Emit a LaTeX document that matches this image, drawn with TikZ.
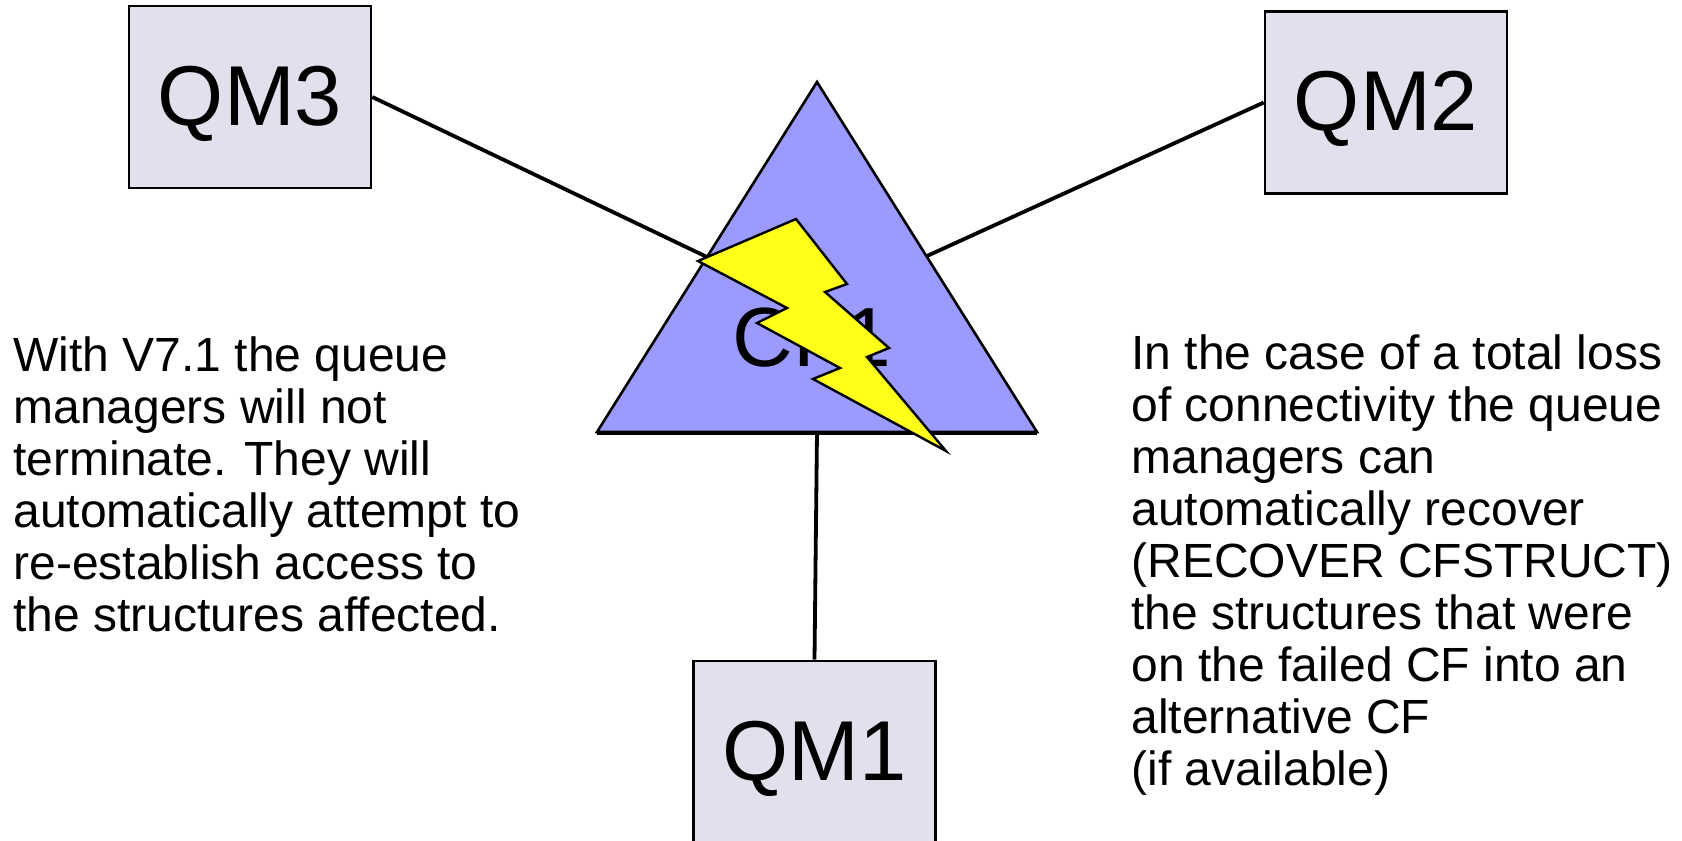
\documentclass[tikz,border=0pt]{standalone}
\usepackage{fontspec}
\setmainfont{Liberation Sans}
\definecolor{qmfill}{HTML}{E4DFEC}
\definecolor{cffill}{HTML}{9B9BFF}
\definecolor{boltfill}{HTML}{FFFF1A}
\begin{document}
\begin{tikzpicture}[x=0.5pt,y=-0.5pt,
  qm/.style={rectangle,draw,line width=1.3pt,fill=qmfill,inner sep=0pt,minimum width=121pt,minimum height=91pt,text height=28pt,text depth=0pt,font=\fontsize{42.5}{50}\selectfont},
  note/.style={anchor=west,align=left,inner sep=0pt,font=\fontsize{24}{26}\selectfont},
  link/.style={draw,line width=1.9pt}]
\useasboundingbox (0,0) rectangle (1682,841);
\node [qm] (qm3) at (250,97) {QM3};
\node [qm] (qm2) at (1386,102.5) {QM2};
\node [qm] (qm1) at (814.5,752) {QM1};
\coordinate (top) at (817,82);
\coordinate (left) at (597,432);
\coordinate (right) at (1037,432);
\coordinate (cf3) at (730,268);
\coordinate (cf2) at (905,266);
\coordinate (cf1) at (817,432);
% links go under the triangle
\draw [link] (qm3.east) -- (cf3);
\draw [link] (qm2.west) -- (cf2);
\draw [link] (qm1.north) -- (cf1);
\draw [line width=1.3pt,fill=cffill] (top) -- (right) -- (left) -- cycle;
\draw [line width=1.3pt] (left) ++(0,2) -- ++(440,0);
\node [inner sep=0pt,text height=28pt,text depth=0pt,font=\fontsize{42}{50}\selectfont] (cf) at (812,338) {CF1};
% the bolt
\draw [line width=1.2pt,fill=boltfill,miter limit=10] (698,261) -- (796,219) -- (847,284) -- (825,292) -- (889,348) -- (867,357) -- (946,451) -- (813,379) -- (840,368) -- (757,323) -- (787,308) -- cycle;
\node [note] (textleft) at (13,484) {With V7.1 the queue\\managers will not\\terminate. They will\\automatically attempt to\\re-establish access to\\the structures affected.};
\node [note] (textright) at (1131,565) {In the case of a total loss\\of connectivity the queue\\managers can\\automatically recover\\(RECOVER CFSTRUCT)\\the structures that were\\on the failed CF into an\\alternative CF\\(if available)};
\end{tikzpicture}
\end{document}
